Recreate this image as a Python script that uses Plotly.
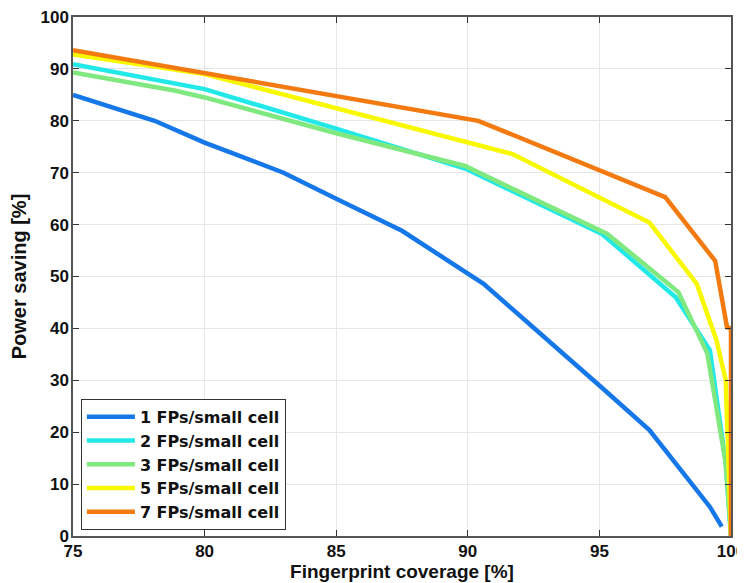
import plotly.graph_objects as go

x1 = [75, 78.1, 80, 83, 85, 87.5, 90.6, 93, 95, 96.9, 98.2, 99.2, 99.65]
y1 = [85, 80, 75.8, 70, 65, 58.8, 48.6, 38, 29, 20.4, 12, 5.6, 1.8]

x2 = [75, 80, 85, 89.9, 95.1, 97.9, 99.2, 99.8, 100]
y2 = [90.9, 86.1, 78.5, 70.8, 58.2, 46, 35.8, 14, 0]

x3 = [75, 78.9, 80, 85, 89.9, 95.3, 98.0, 99.1, 99.8, 100]
y3 = [89.3, 85.8, 84.5, 77.6, 71.3, 58.2, 47, 35.2, 14, 0]

x5 = [75, 80, 91.7, 96.9, 98.7, 99.45, 99.8, 100]
y5 = [92.8, 89, 73.6, 60.4, 48.6, 37.7, 30, 0]

x7 = [75, 80, 90.4, 97.5, 99.4, 99.85, 100, 100]
y7 = [93.6, 89.2, 80, 65.3, 53, 40.2, 40, 0]

names = ["1 FPs/small cell", "2 FPs/small cell", "3 FPs/small cell",
         "5 FPs/small cell", "7 FPs/small cell"]
colors = ["#1677e8", "#22e8e8", "#7fe87f", "#f8f800", "#f27a10"]

fig = go.Figure()
for xs, ys, n, c in zip([x1, x2, x3, x5, x7], [y1, y2, y3, y5, y7], names, colors):
    fig.add_trace(go.Scatter(x=xs, y=ys, mode="lines", name=n,
                             line=dict(color=c, width=4.5)))

FONT = "Liberation Sans"
axis_common = dict(
    showgrid=True, gridcolor="#e6e6e6", gridwidth=1,
    showline=True, linecolor="#555555", linewidth=1.5, mirror="ticks",
    ticks="inside", ticklen=6, tickcolor="#333333",
    zeroline=False, automargin=False, ticklabeloverflow="allow",
    tickfont=dict(family=FONT, size=17, color="#111111", weight="bold"),
)

fig.update_xaxes(range=[75, 100], dtick=5, tick0=75, ticklabelstandoff=-1,
                 title=dict(text="Fingerprint coverage [%]", standoff=0,
                            font=dict(family=FONT, size=19, color="#111111", weight="bold")),
                 **axis_common)
fig.update_yaxes(range=[0, 100], dtick=10, tick0=0, ticklabelstandoff=-1,
                 title=dict(text="Power saving [%]", standoff=10,
                            font=dict(family=FONT, size=20, color="#111111", weight="bold")),
                 **axis_common)

fig.update_layout(
    width=737, height=575,
    margin=dict(l=65, r=14, t=9, b=47),
    paper_bgcolor="white", plot_bgcolor="white",
    showlegend=True,
    legend=dict(x=0.012, y=0.012, xanchor="left", yanchor="bottom",
                bgcolor="white", bordercolor="#333333", borderwidth=1,
                font=dict(family="DejaVu Sans", size=16, color="#111111", weight="bold"),
                itemwidth=48, tracegroupgap=0),
)

fig.write_html("out.html")
